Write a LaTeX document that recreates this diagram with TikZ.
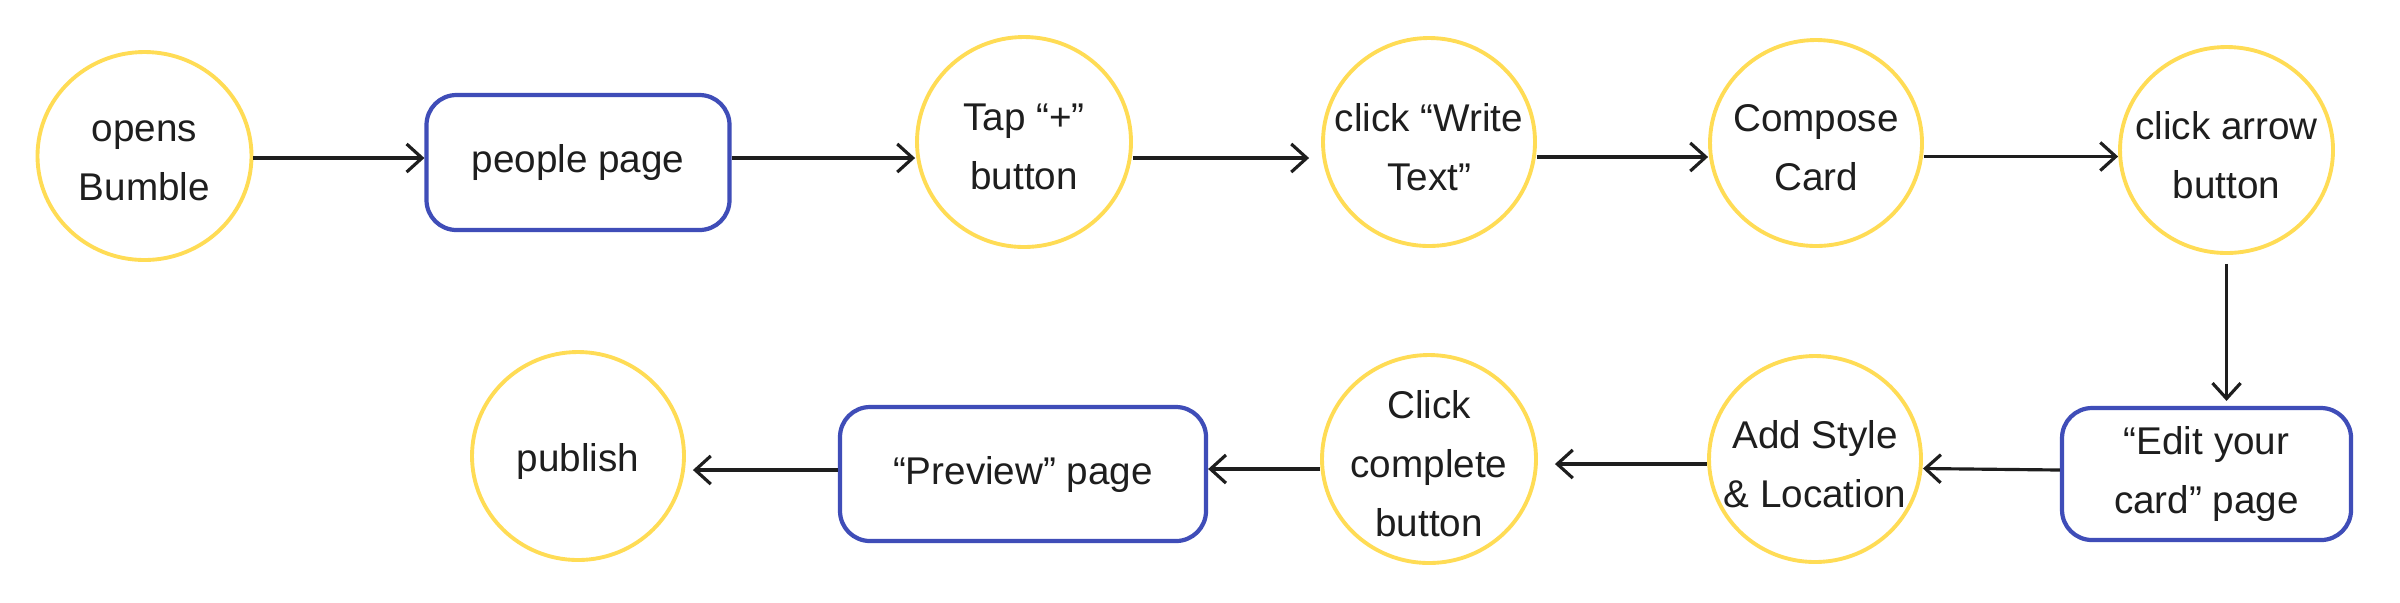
\documentclass[tikz,border=0pt]{standalone}
\usepackage{fontspec}
\setmainfont{Liberation Sans}
\usetikzlibrary{shapes.geometric,arrows.meta}
\definecolor{ylw}{HTML}{FFDC55}
\definecolor{blu}{HTML}{3F4DB8}
\definecolor{ink}{HTML}{1E1E1E}
\tikzset{
  lbl/.style={align=center, text=ink, inner sep=0pt, yshift=-0.05cm, font=\fontsize{11}{16.8}\selectfont},
  circ/.style={ellipse, draw=ylw, line width=1.1pt, fill=white, inner sep=0pt,
    label={[lbl]center:{#1}}},
  rbox/.style={rectangle, rounded corners=0.3cm, draw=blu, line width=1.2pt, fill=white, inner sep=0pt, align=center, text=ink,
    font=\fontsize{11}{16.8}\selectfont},
  arr/.style={draw=ink, line width=0.9pt, -{Straight Barb[length=4.4pt,width=8pt,line width=0.9pt]}}
}
\begin{document}
\begin{tikzpicture}
\useasboundingbox[fill=white] (0,0) rectangle (24,-6.02);
% row 1
\node[circ={opens\\Bumble}, minimum width=2.14cm, minimum height=2.08cm] (opens) at (1.445,-1.56) {};
\node[rbox, minimum width=3.03cm, minimum height=1.35cm] (people) at (5.78,-1.625) {people page};
\node[circ={Tap “+”\\button}, minimum width=2.14cm, minimum height=2.10cm] (Tap) at (10.24,-1.42) {};
\node[circ={click “Write\\Text”}, minimum width=2.12cm, minimum height=2.08cm] (Write) at (14.29,-1.42) {};
\node[circ={Compose\\Card}, minimum width=2.12cm, minimum height=2.06cm] (Compose) at (18.16,-1.43) {};
\node[circ={click arrow\\button}, minimum width=2.13cm, minimum height=2.06cm] (ClickArrow) at (22.265,-1.50) {};
% row 2
\node[rbox, minimum width=2.89cm, minimum height=1.32cm] (Edit) at (22.065,-4.74) {“Edit your\\card” page};
\node[circ={Add Style\\\& Location}, minimum width=2.12cm, minimum height=2.06cm] (AddStyle) at (18.15,-4.59) {};
\node[circ={Click\\complete\\button}, minimum width=2.14cm, minimum height=2.08cm] (ClickComplete) at (14.29,-4.59) {};
\node[rbox, minimum width=3.66cm, minimum height=1.34cm] (Preview) at (10.23,-4.74) {“Preview” page};
\node[circ={publish}, minimum width=2.12cm, minimum height=2.08cm] (publish) at (5.78,-4.56) {};
% connectors
\draw[arr] (opens.east |- 0,-1.58) -- (people.west |- 0,-1.58);
\draw[arr] (people.east |- 0,-1.58) -- (Tap.west |- 0,-1.58);
\draw[arr, shorten >=0.12cm] (Tap.east |- 0,-1.58) -- (Write.west |- 0,-1.58);
\draw[arr] (Write.east |- 0,-1.57) -- (Compose.west |- 0,-1.57);
\draw[arr] (Compose.east |- 0,-1.565) -- (ClickArrow.west |- 0,-1.565);
\draw[arr, shorten <=0.09cm, shorten >=0.05cm] (ClickArrow.south) -- (ClickArrow.south |- Edit.north);
\draw[arr] (Edit.west |- 0,-4.70) -- (AddStyle.east |- 0,-4.685);
\draw[arr, shorten >=0.17cm] (AddStyle.west |- 0,-4.64) -- (ClickComplete.east |- 0,-4.64);
\draw[arr] (ClickComplete.west |- 0,-4.69) -- (Preview.east |- 0,-4.69);
\draw[arr, shorten >=0.07cm] (Preview.west |- 0,-4.70) -- (publish.east |- 0,-4.70);
\end{tikzpicture}
\end{document}
